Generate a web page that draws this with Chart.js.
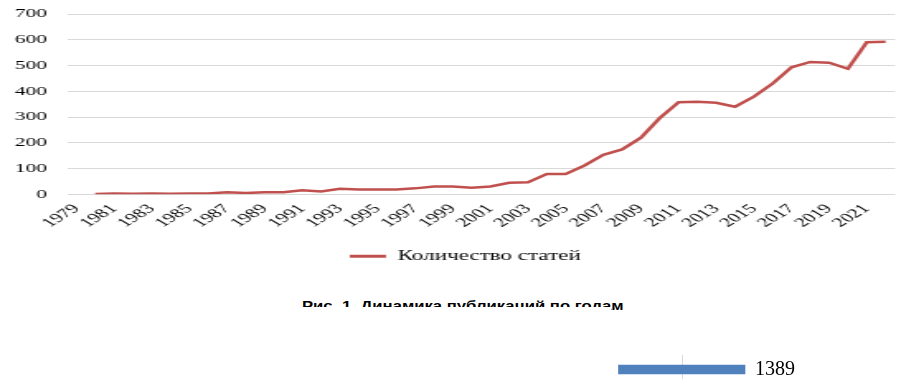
<!DOCTYPE html>
<html lang="ru">
<head>
<meta charset="utf-8">
<title>Динамика публикаций по годам</title>
<script src="https://cdn.jsdelivr.net/npm/chart.js@4.4.1/dist/chart.umd.min.js"></script>
<style>
  html, body { margin: 0; padding: 0; background: #fff; }
  body { width: 924px; height: 379px; position: relative; overflow: hidden; }
  /* the source picture is stretched sideways, so the chart is too */
  #mainWrap { position: absolute; left: 0; top: 0; width: 560px; height: 280px; transform: scaleX(1.65); transform-origin: 0 0; }
  #articlesChart { display: block; width: 560px; height: 280px; }
  #caption { position: absolute; left: 302px; top: 299px; font: bold 12px "Liberation Sans", Arial, sans-serif; white-space: nowrap; transform-origin: 0 0; color: #000; }
  #captionMask { position: absolute; left: 298px; top: 307px; width: 313px; height: 16px; background: #fff; }
  #barWrap { position: absolute; left: 560px; top: 340px; width: 364px; height: 60px; }
</style>
</head>
<body>
<div id="mainWrap"><canvas id="articlesChart" width="560" height="280"></canvas></div>
<div id="caption">Рис. 1. Динамика публикаций по годам</div>
<div id="captionMask"></div>
<div id="barWrap"><canvas id="totalChart"></canvas></div>

<script>
// Publications per year
const years = [1979, 1980, 1981, 1982, 1983, 1984, 1985, 1986, 1987, 1988, 1989,
    1990, 1991, 1992, 1993, 1994, 1995, 1996, 1997, 1998, 1999,
    2000, 2001, 2002, 2003, 2004, 2005, 2006, 2007, 2008, 2009,
    2010, 2011, 2012, 2013, 2014, 2015, 2016, 2017, 2018, 2019,
    2020, 2021, 2022];
const articleCounts = [null, 1, 3, 2, 3, 2, 3, 3, 8, 5, 8,
    8, 16, 11, 21, 19, 19, 19, 23, 30, 30,
    25, 30, 45, 47, 79, 79, 112, 153, 174, 220,
    296, 357, 359, 355, 340, 379, 430, 493, 514, 511,
    487, 590, 592];
// only every other year gets a label
const shownYears = [1979, 1981, 1983, 1985, 1987, 1989, 1991, 1993, 1995, 1997, 1999,
    2001, 2003, 2005, 2007, 2009, 2011, 2013, 2015, 2017, 2019, 2021];
const seriesLabel = 'Количество статей';

// Piece of the next chart, cut off at the bottom
const totalLabels = ['Всего'];
const totalValues = [1389];

const redLine = 'rgb(192, 80, 77)';
const blueBar = 'rgb(79, 129, 189)';
const serif = '"Liberation Serif", "Times New Roman", serif';

// fixed size canvas: a responsive chart would read the transformed width
new Chart(document.getElementById('articlesChart'), {
    type: 'line',
    data: {
        labels: years.map(String),
        datasets: [{
            label: seriesLabel,
            data: articleCounts,
            borderColor: redLine,
            backgroundColor: redLine,
            borderWidth: 2.5,
            pointRadius: 0,
            tension: 0
        }]
    },
    options: {
        responsive: false,
        animation: false,
        layout: { padding: { top: 14, left: 9, right: 5, bottom: 6.7 } },
        plugins: {
            legend: {
                position: 'bottom',
                labels: {
                    color: '#000',
                    font: { family: serif, size: 14 },
                    boxWidth: 22,
                    boxHeight: 3,
                    padding: 11.6,
                    generateLabels: chart => Chart.defaults.plugins.legend.labels.generateLabels(chart)
                        .map(item => Object.assign(item, { lineWidth: 0 }))
                }
            },
            tooltip: { enabled: false }
        },
        scales: {
            x: {
                offset: true,
                grid: { display: false, drawTicks: false },
                border: { display: false },
                ticks: {
                    autoSkip: false,
                    minRotation: 45,
                    maxRotation: 45,
                    padding: 7,
                    color: '#000',
                    font: { family: serif, size: 13 },
                    callback: (value, index) => shownYears.includes(years[index]) ? String(years[index]) : ''
                }
            },
            y: {
                min: 0,
                max: 700,
                ticks: { stepSize: 100, padding: 6, color: '#000', font: { family: serif, size: 13 } },
                grid: { color: '#d9d9d9', drawTicks: true, tickLength: 6, tickColor: 'rgba(0,0,0,0)' },
                border: { display: false },
                afterFit: scale => { scale.width = 31.6; }
            },
            // empty right-hand axis, only keeps the plot off the right edge
            yRight: {
                position: 'right',
                ticks: { display: false },
                grid: { display: false, drawTicks: false },
                border: { display: false },
                afterFit: scale => { scale.width = 12.6; }
            }
        }
    }
});

// Stretch the caption to the width it has in the picture
const caption = document.getElementById('caption');
caption.style.transform = 'scaleX(' + (321 / caption.offsetWidth) + ')';

// Value label at the end of the bar
const valueLabel = {
    id: 'valueLabel',
    afterDatasetsDraw(chart) {
        const ctx = chart.ctx;
        chart.getDatasetMeta(0).data.forEach((bar, i) => {
            ctx.save();
            ctx.font = '20px ' + serif;
            ctx.fillStyle = '#000';
            ctx.textBaseline = 'middle';
            ctx.fillText(String(totalValues[i]), bar.x + 10, bar.y);
            ctx.restore();
        });
    }
};

new Chart(document.getElementById('totalChart'), {
    type: 'bar',
    data: {
        labels: totalLabels,
        datasets: [{ data: totalValues, backgroundColor: blueBar, barThickness: 9 }]
    },
    options: {
        indexAxis: 'y',
        responsive: true,
        maintainAspectRatio: false,
        animation: false,
        layout: { padding: { left: 58, right: 178, top: 15, bottom: 16 } },
        plugins: { legend: { display: false }, tooltip: { enabled: false } },
        scales: {
            x: {
                min: 0,
                max: 1400,
                ticks: { display: false, stepSize: 700 },
                grid: {
                    drawTicks: false,
                    color: ctx => (ctx.tick && ctx.tick.value === 700) ? '#d9d9d9' : 'rgba(0,0,0,0)'
                },
                border: { display: false }
            },
            y: { display: false }
        }
    },
    plugins: [valueLabel]
});
</script>
</body>
</html>
